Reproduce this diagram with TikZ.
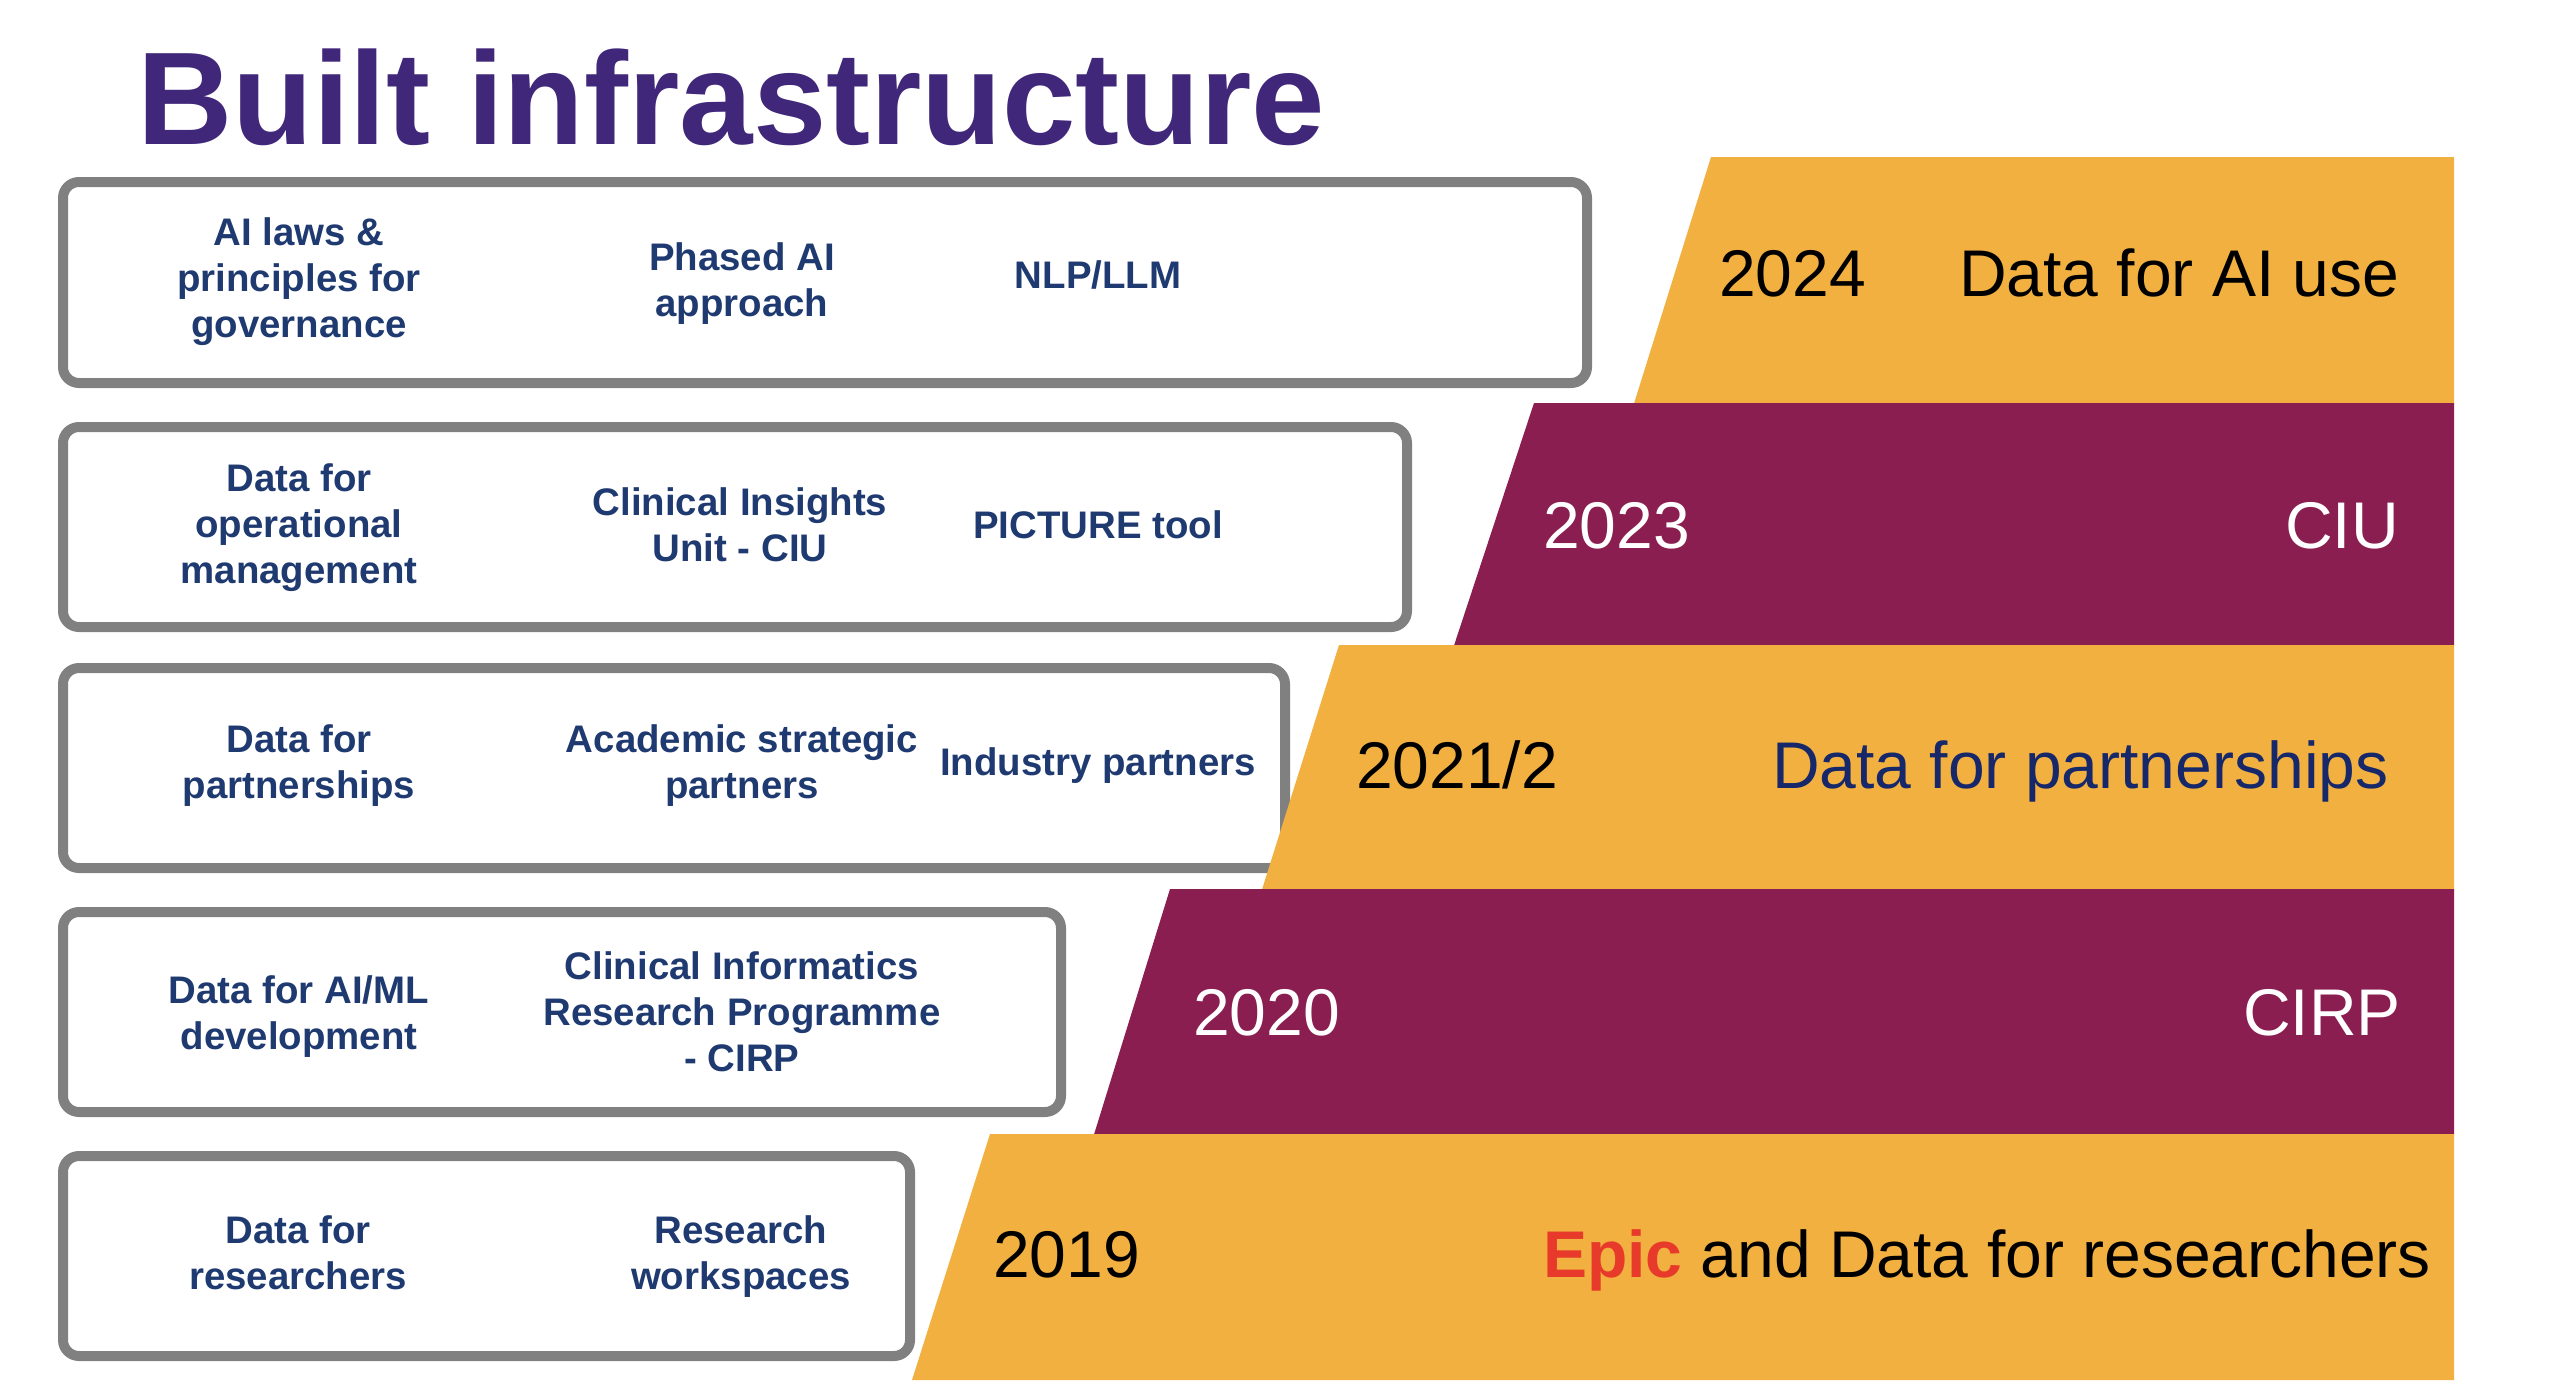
\documentclass[tikz,border=0pt]{standalone}
\usepackage{fontspec}
\setmainfont{Liberation Sans}
\definecolor{titlepurple}{HTML}{40277A}
\definecolor{boxgray}{HTML}{808080}
\definecolor{navy}{HTML}{1F3A70}
\definecolor{darknavy}{HTML}{16286A}
\definecolor{bandorange}{HTML}{F1B040}
\definecolor{bandmaroon}{HTML}{8A1E50}
\definecolor{epicred}{HTML}{E73A2A}
\begin{document}
\begin{tikzpicture}[x=1pt,y=-1pt,
  boxstyle/.style={draw=boxgray, line width=10pt, rounded corners=16pt, fill=white, inner sep=0pt},
  boxtext/.style={font=\fontsize{38.4}{46}\selectfont\bfseries, text=navy, align=center, inner sep=0pt},
  bandtext/.style={font=\fontsize{66}{66}\selectfont, inner sep=0pt},
]
\useasboundingbox (0,0) rectangle (2560,1385);
\fill[white] (0,0) rectangle (2560,1385);

% title
\node[anchor=base west, font=\fontsize{132}{132}\selectfont\bfseries, text=titlepurple, inner sep=0pt] (title) at (137,144) {Built infrastructure};

% boxes
\node[boxstyle, minimum width=1524pt, minimum height=201pt] (box1) at (825,282.5) {};
\node[boxstyle, minimum width=1344pt, minimum height=200pt] (box2) at (735,527) {};
\node[boxstyle, minimum width=1222pt, minimum height=200pt] (box3) at (674,768) {};
\node[boxstyle, minimum width=998pt, minimum height=200pt] (box4) at (562,1012) {};
\node[boxstyle, minimum width=847pt, minimum height=200pt] (box5) at (486.5,1256) {};

% box texts
\node[boxtext] (b1a) at (299,282) {AI laws \&\\principles for\\governance};
\node[boxtext] (b1b) at (742,284) {Phased AI\\approach};
\node[boxtext] (b1c) at (1098,275) {NLP/LLM};

\node[boxtext] (b2a) at (299,528) {Data for\\operational\\management};
\node[boxtext] (b2b) at (740,525) {Clinical Insights\\Unit - CIU};
\node[boxtext] (b2c) at (1098,525) {PICTURE tool};

\node[boxtext] (b3a) at (299,766) {Data for\\partnerships};
\node[boxtext] (b3b) at (742,766) {Academic strategic\\partners};
\node[boxtext] (b3c) at (1098,766) {Industry partners};

\node[boxtext] (b4a) at (299,1017) {Data for AI/ML\\development};
\node[boxtext] (b4b) at (742,1012) {Clinical Informatics\\Research Programme\\- CIRP};

\node[boxtext] (b5a) at (298,1253) {Data for\\researchers};
\node[boxtext] (b5b) at (741,1257) {Research\\workspaces};

% bands
\fill[bandorange] (1711,157) -- (2454,157) -- (2454,403.5) -- (1634,403.5) -- cycle;
\fill[bandmaroon] (1534,403) -- (2454,403) -- (2454,645.5) -- (1454,645.5) -- cycle;
\fill[bandorange] (1339,645) -- (2454,645) -- (2454,889.5) -- (1262,889.5) -- cycle;
\fill[bandmaroon] (1170,889) -- (2454,889) -- (2454,1134.5) -- (1094,1134.5) -- cycle;
\fill[bandorange] (990,1134) -- (2454,1134) -- (2454,1380) -- (912,1380) -- cycle;

% band texts
\node[bandtext, anchor=base west] (y2024) at (1719,296) {2024};
\node[bandtext, anchor=base west] (t2024) at (1959,296) {Data for AI use};
\node[bandtext, anchor=base west, text=white] (y2023) at (1543,548) {2023};
\node[bandtext, anchor=base east, text=white] (t2023) at (2399,548) {CIU};
\node[bandtext, anchor=base west] (y2021) at (1356,788) {2021/2};
\node[bandtext, anchor=base west, text=darknavy] (t2021) at (1772,788) {Data for partnerships};
\node[bandtext, anchor=base west, text=white] (y2020) at (1193,1035) {2020};
\node[bandtext, anchor=base east, text=white] (t2020) at (2401,1035) {CIRP};
\node[bandtext, anchor=base west] (y2019) at (993,1277) {2019};
\node[bandtext, anchor=base west] (t2019) at (1543,1277) {{\bfseries\color{epicred}Epic} and Data for researchers};
\end{tikzpicture}
\end{document}
